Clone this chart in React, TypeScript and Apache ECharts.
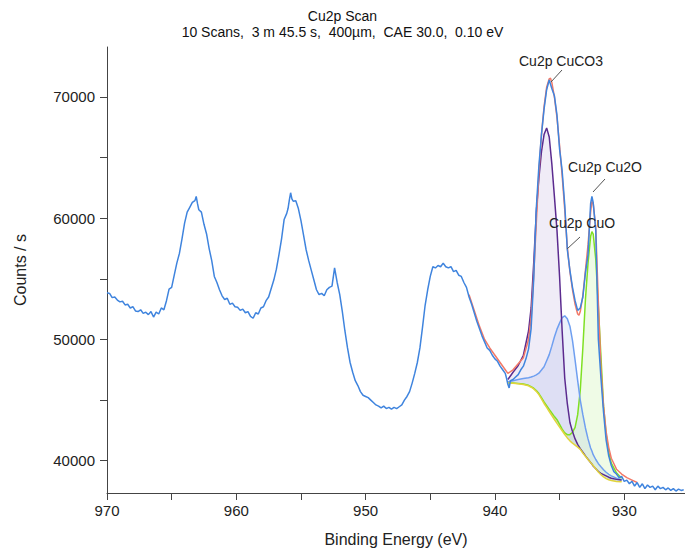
import React, { useEffect, useRef } from "react";
import * as echarts from "echarts";

// ---------- raw spectrum (Binding Energy eV / Counts per s) ----------
const spectrumE = [
  970.0, 969.8, 969.6, 969.4, 969.2, 969.0, 968.8, 968.6, 968.4, 968.2, 968.0, 967.8, 967.6, 967.4, 967.2, 967.0,
  966.8, 966.6, 966.4, 966.2, 966.0, 965.8, 965.6, 965.4, 965.2, 965.0, 964.8, 964.6, 964.4, 964.2, 964.0, 963.8,
  963.6, 963.4, 963.2, 963.1, 963.0, 962.9, 962.7, 962.5, 962.3, 962.1, 961.9, 961.7, 961.5, 961.3, 961.1, 960.9,
  960.7, 960.5, 960.3, 960.1, 959.9, 959.7, 959.5, 959.3, 959.1, 958.9, 958.7, 958.5, 958.3, 958.1, 957.9, 957.7,
  957.5, 957.3, 957.1, 956.9, 956.7, 956.5, 956.3, 956.1, 956.0, 955.9, 955.8, 955.7, 955.6, 955.4, 955.2, 955.0,
  954.8, 954.6, 954.4, 954.2, 954.0, 953.8, 953.6, 953.4, 953.2, 953.0, 952.8, 952.6, 952.4, 952.2, 952.0, 951.8,
  951.6, 951.4, 951.2, 951.0, 950.8, 950.6, 950.4, 950.2, 950.0, 949.8, 949.6, 949.4, 949.2, 949.0, 948.8, 948.6,
  948.4, 948.2, 948.0, 947.8, 947.6, 947.4, 947.2, 947.0, 946.8, 946.6, 946.4, 946.2, 946.0, 945.8, 945.6, 945.4,
  945.2, 945.0, 944.8, 944.6, 944.4, 944.2, 944.0, 943.8, 943.6, 943.4, 943.2, 943.0, 942.8, 942.6, 942.4, 942.2,
  942.0, 941.8, 941.6, 941.4, 941.2, 941.0, 940.8, 940.6, 940.4, 940.2, 940.0, 939.8, 939.6, 939.4, 939.2, 939.1,
  939.0, 938.9, 938.8, 938.6, 938.4, 938.2, 938.0, 937.8, 937.6, 937.4, 937.2, 937.0, 936.8, 936.6, 936.4, 936.2,
  936.0, 935.8, 935.6, 935.4, 935.2, 935.0, 934.8, 934.6, 934.4, 934.2, 934.0, 933.8, 933.6, 933.4, 933.2, 933.0,
  932.8, 932.6, 932.5, 932.4, 932.2, 932.0, 931.8, 931.6, 931.4, 931.2, 931.0, 930.8, 930.6, 930.4, 930.2, 930.0,
  929.8, 929.6, 929.4, 929.2, 929.0, 928.8, 928.6, 928.4, 928.2, 928.0, 927.8, 927.6, 927.4, 927.2, 927.0, 926.8,
  926.6, 926.4, 926.2, 926.0, 925.8, 925.6, 925.4,
];
const spectrumCounts = [
  53850, 53800, 53450, 53500, 53250, 53100, 53150, 52850, 52900, 52600, 52700, 52350, 52300, 52450, 52150, 52250,
  52050, 52300, 51850, 52250, 52100, 52600, 52450, 53200, 54150, 54300, 55300, 56300, 57100, 58300, 59600, 60500,
  60900, 61300, 61450, 61800, 61200, 60700, 60500, 59500, 58700, 57500, 56500, 55200, 54700, 54100, 53600, 53300,
  53400, 52900, 53000, 52700, 52650, 52400, 52500, 52200, 52300, 51900, 51750, 52200, 52100, 52600, 52700, 53200,
  53500, 54200, 54900, 55800, 57000, 58300, 59900, 60400, 60800, 61500, 62100, 61600, 61400, 61450, 60800, 59800,
  58600, 57400, 56500, 55700, 54900, 54100, 53700, 53800, 53600, 54100, 54300, 54400, 55900, 54700, 53700, 52300,
  50700, 49300, 48100, 47300, 46600, 46200, 45700, 45400, 45300, 45200, 45000, 44800, 44600, 44500, 44350, 44500,
  44300, 44400, 44250, 44400, 44300, 44450, 44600, 45000, 45300, 45700, 46400, 47200, 48100, 49300, 51000, 52800,
  54100, 55200, 56000, 55900, 56100, 56000, 56300, 56000, 55900, 56000, 55600, 55700, 55300, 55200, 54700, 54300,
  53500, 52900, 52200, 51500, 50900, 50300, 49800, 49300, 49100, 48700, 48400, 48200, 47800, 47500, 47200, 46800,
  46300, 46000, 46600, 46700, 46900, 47100, 47500, 47800, 48400, 49200, 50900, 55000, 60800, 64300, 66900, 69000,
  70600, 71400, 70700, 70100, 68500, 65700, 63900, 61100, 57400, 55700, 54300, 53200, 52400, 52600, 53500, 55500,
  57000, 61200, 61800, 61300, 59000, 50000, 46800, 44000, 41700, 40400, 39600, 39100, 38900, 38600, 38700, 38300,
  38400, 38100, 38300, 37900, 38200, 37800, 38100, 37700, 38000, 37800, 37900, 37600, 37900, 37700, 37800, 37600,
  37750, 37550, 37700, 37500, 37650, 37550, 37600,
];

// ---------- peak fit (shared energy grid) ----------
const fitE = [
  939.0, 938.6, 938.2, 937.8, 937.4, 937.2, 937.0, 936.8, 936.6, 936.4, 936.2, 936.0, 935.8, 935.6, 935.4, 935.2,
  935.0, 934.8, 934.6, 934.4, 934.2, 934.0, 933.8, 933.6, 933.4, 933.2, 933.0, 932.8, 932.6, 932.5, 932.4, 932.2,
  932.0, 931.8, 931.6, 931.4, 931.2, 931.0, 930.6, 930.2,
];
const backgroundCounts = [
  46420, 46380, 46340, 46290, 46180, 46060, 45920, 45720, 45450, 45100, 44720, 44400, 44060, 43730, 43400, 43080,
  42770, 42470, 42160, 41880, 41640, 41450, 41290, 41120, 40930, 40640, 40360, 40100, 39860, 39720, 39600, 39330,
  39070, 38850, 38660, 38520, 38430, 38360, 38290, 38270,
];
const cuco3Counts = [
  46700, 47300, 47850, 48700, 50700, 52600, 56300, 60500, 63300, 65500, 66900, 67450, 66700, 64500, 61800, 59000,
  55200, 50700, 46800, 44700, 43150, 42400, 41800, 41350, 41000, 40700, 40400, 40120, 39850, 39720, 39560, 39340,
  39100, 38950, 38850, 38750, 38640, 38550, 38460, 38400,
];
const cuoCounts = [
  46500, 46600, 46700, 46780, 46850, 46900, 46980, 47080, 47220, 47480, 47750, 48250, 48750, 49450, 50200, 50850,
  51350, 51800, 51950, 51700, 51100, 49900, 48300, 46600, 45000, 43800, 42700, 41800, 41050, 40800, 40500, 40100,
  39750, 39500, 39260, 39050, 38880, 38750, 38550, 38430,
];
const cu2oCounts = [
  46430, 46400, 46360, 46320, 46220, 46110, 45980, 45790, 45540, 45210, 44850, 44540, 44230, 43930, 43640, 43380,
  43000, 42600, 42300, 42150, 42150, 42350, 42750, 43800, 45800, 49300, 53300, 56300, 58500, 58900, 58700, 56600,
  52700, 48600, 44500, 42200, 40700, 39800, 39000, 38550,
];
const envelopeE = [
  942.0, 941.6, 941.2, 940.8, 940.4, 940.0, 939.6, 939.2, 939.0, 938.6, 938.2, 937.8, 937.4, 937.2, 937.0, 936.8,
  936.6, 936.4, 936.2, 936.0, 935.8, 935.7, 935.6, 935.4, 935.2, 935.0, 934.8, 934.6, 934.4, 934.2, 934.0, 933.8,
  933.6, 933.5, 933.4, 933.2, 933.0, 932.8, 932.6, 932.5, 932.4, 932.2, 932.0, 931.8, 931.6, 931.4, 931.2, 931.0,
  930.6, 930.2, 929.8, 929.4, 929.0,
];
const envelopeCounts = [
  53700, 52400, 51100, 50000, 49300, 48700, 48100, 47500, 47200, 47500, 48000, 48500, 50000, 51800, 55300, 59600,
  63800, 66900, 69200, 70800, 71500, 71550, 71200, 70000, 68300, 66000, 63500, 60700, 57600, 55600, 54100, 52900,
  52100, 52000, 52300, 53600, 55700, 57800, 60500, 61400, 61200, 59200, 53000, 47600, 44500, 42400, 41100, 40200,
  39300, 38900, 38600, 38400, 38200,
];

const xTickValues = [930, 935, 940, 945, 950, 955, 960, 965, 970];
const xLabelValues = [930, 940, 950, 960, 970];
const yTickValues = [40000, 45000, 50000, 55000, 60000, 65000, 70000];
const yLabelValues = [40000, 50000, 60000, 70000];

const FONT = '"Liberation Sans", Arial, sans-serif';

const zip = (xs: number[], ys: number[]) => xs.map((x, i) => [x, ys[i]]);

function fillSeries(comp: number[], color: string) {
  return {
    type: "custom",
    silent: true,
    z: 1,
    data: [[fitE[0], backgroundCounts[0]]],
    encode: { x: 0, y: 1 },
    renderItem: (_params: any, api: any) => {
      const top = fitE.map((e, i) => api.coord([e, comp[i]]));
      const bottom = fitE.map((e, i) => api.coord([e, backgroundCounts[i]])).reverse();
      return {
        type: "polygon",
        shape: { points: top.concat(bottom) },
        style: { fill: color, stroke: "none" },
      };
    },
  };
}

function lineSeries(name: string, xs: number[], ys: number[], color: string, z: number, width = 1.5) {
  return {
    name,
    type: "line",
    data: zip(xs, ys),
    showSymbol: false,
    symbol: "none",
    z,
    silent: true,
    lineStyle: { color, width },
  };
}

export default function App() {
  const ref = useRef<HTMLDivElement>(null);
  useEffect(() => {
    if (!ref.current) return;
    const chart = echarts.init(ref.current, undefined, { renderer: "svg" });
    const axisColor = "#444";
    chart.setOption({
      animation: false,
      backgroundColor: "#ffffff",
      textStyle: { fontFamily: FONT },
      title: {
        text: "Cu2p Scan",
        subtext: "10 Scans,  3 m 45.5 s,  400µm,  CAE 30.0,  0.10 eV",
        left: "center",
        top: 4,
        itemGap: 2,
        textStyle: { fontSize: 14, fontWeight: "normal", color: "#111", fontFamily: FONT },
        subtextStyle: { fontSize: 14, color: "#111", fontFamily: FONT },
      },
      grid: { left: 107, right: 0, top: 47, bottom: 61, containLabel: false, outerBoundsMode: "none" },
      xAxis: {
        type: "value",
        inverse: true,
        min: 925.3,
        max: 970,
        name: "Binding Energy (eV)",
        nameLocation: "middle",
        nameGap: 38,
        nameTextStyle: { fontSize: 16, color: "#222", fontFamily: FONT },
        axisLine: { lineStyle: { color: axisColor, width: 1 } },
        axisTick: { show: true, length: 7, customValues: xTickValues, lineStyle: { color: axisColor } },
        axisLabel: {
          customValues: xLabelValues,
          fontSize: 15,
          color: "#222",
          margin: 10,
          fontFamily: FONT,
          formatter: (v: number) => String(Math.round(v)),
        },
        splitLine: { show: false },
      },
      yAxis: {
        type: "value",
        min: 37336,
        max: 74124,
        name: "Counts / s",
        nameLocation: "middle",
        nameGap: 79,
        nameRotate: 90,
        nameTextStyle: { fontSize: 16, color: "#222", fontFamily: FONT },
        axisLine: { show: true, lineStyle: { color: axisColor, width: 1 } },
        axisTick: { show: true, length: 7, customValues: yTickValues, lineStyle: { color: axisColor } },
        axisLabel: {
          customValues: yLabelValues,
          fontSize: 15,
          color: "#222",
          margin: 12,
          fontFamily: FONT,
          formatter: (v: number) => String(Math.round(v)),
        },
        splitLine: { show: false },
      },
      series: [
        fillSeries(cuco3Counts, "rgba(150,120,200,0.14)"),
        fillSeries(cuoCounts, "rgba(110,150,230,0.14)"),
        fillSeries(cu2oCounts, "rgba(140,230,80,0.14)"),
        lineSeries("Cu2p Cu2O", fitE, cu2oCounts, "#7fe024", 3),
        lineSeries("Cu2p CuO", fitE, cuoCounts, "#6f9ff0", 3),
        lineSeries("Cu2p CuCO3", fitE, cuco3Counts, "#5b2b8f", 3),
        lineSeries("Background", fitE, backgroundCounts, "#e2d43c", 3),
        lineSeries("Envelope", envelopeE, envelopeCounts, "#f27a68", 4),
        lineSeries("Cu2p Scan", spectrumE, spectrumCounts, "#3f84de", 5),
      ],
      graphic: [
        { type: "line", shape: { x1: 551, y1: 82, x2: 562, y2: 70 }, style: { stroke: "#555", lineWidth: 1 }, z: 10 },
        { type: "text", x: 561, y: 61, style: { text: "Cu2p CuCO3", font: `14px ${FONT}`, fill: "#222", textAlign: "center", textVerticalAlign: "middle" }, z: 10 },
        { type: "line", shape: { x1: 593, y1: 192, x2: 605, y2: 179 }, style: { stroke: "#555", lineWidth: 1 }, z: 10 },
        { type: "text", x: 605, y: 167, style: { text: "Cu2p Cu2O", font: `14px ${FONT}`, fill: "#222", textAlign: "center", textVerticalAlign: "middle" }, z: 10 },
        { type: "line", shape: { x1: 567, y1: 249, x2: 580, y2: 237 }, style: { stroke: "#555", lineWidth: 1 }, z: 10 },
        { type: "text", x: 582, y: 223, style: { text: "Cu2p CuO", font: `14px ${FONT}`, fill: "#222", textAlign: "center", textVerticalAlign: "middle" }, z: 10 },
      ],
    });
    return () => chart.dispose();
  }, []);
  return <div ref={ref} style={{ position: "fixed", left: 0, top: 0, width: 685, height: 554 }} />;
}
